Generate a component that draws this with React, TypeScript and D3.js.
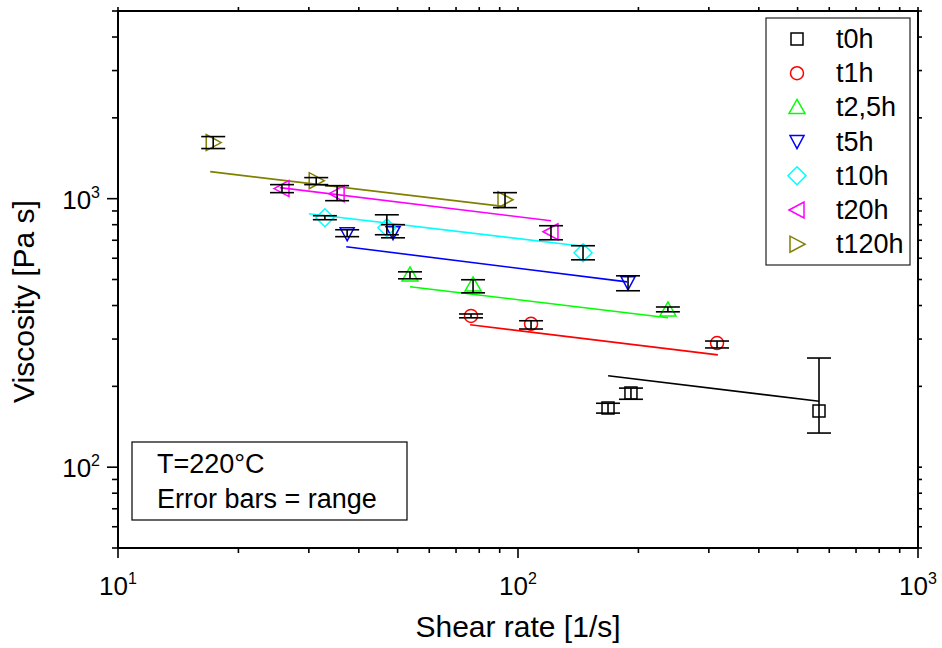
import * as d3 from "d3";

// series (ageing time at 220 °C)
const seriesNames = ["t0h", "t1h", "t2,5h", "t5h", "t10h", "t20h", "t120h"];
const seriesColors = ["#000000", "#ff0000", "#00ff00", "#0000ff", "#00ffff", "#ff00ff", "#808000"];
const seriesSymbols = ["square", "circle", "triUp", "triDown", "diamond", "triLeft", "triRight"];

// shear rate [1/s]
const shearRate = [
  [167.9, 191.6, 565.6],
  [76.3, 107.8, 314.5],
  [53.7, 77.2, 237],
  [37.4, 48.7, 188.4],
  [32.9, 47.0, 145.4],
  [25.7, 35.3, 120.9],
  [17.3, 31.3, 92.8],
];
// viscosity [Pa s], mean
const viscosity = [
  [166, 189, 162],
  [366, 342, 290],
  [520, 477, 385],
  [740, 747, 486],
  [849, 779, 629],
  [1090, 1044, 753],
  [1618, 1167, 991],
];
// error bars = range
const viscMin = [
  [159, 179, 134],
  [360, 327, 278],
  [503, 446, 379],
  [722, 715, 454],
  [835, 734, 592],
  [1053, 983, 703],
  [1537, 1128, 926],
];
const viscMax = [
  [173, 197, 255],
  [372, 351, 295],
  [534, 499, 395],
  [766, 800, 516],
  [864, 871, 668],
  [1128, 1118, 793],
  [1703, 1198, 1053],
];
// power-law fit lines (start / end)
const fitShear = [
  [168, 566],
  [75.9, 316],
  [53.7, 237],
  [37.2, 187.3],
  [30.0, 148.8],
  [25.4, 120.9],
  [17.0, 92.8],
];
const fitVisc = [
  [219, 176],
  [339, 262],
  [470, 360],
  [662, 490],
  [879, 662],
  [1099, 828],
  [1261, 934],
];

const width = 942;
const height = 648;
const plot = { left: 118, right: 918, top: 11, bottom: 548 };
const font = "'Liberation Sans', Arial, sans-serif";

const x = d3.scaleLog().domain([10, 1000]).range([plot.left, plot.right]);
const y = d3.scaleLog().domain([50, 5000]).range([plot.bottom, plot.top]);

const isMajor = (v: number) => Math.abs(Math.log10(v) - Math.round(Math.log10(v))) < 1e-9;

function Marker({ kind, color, cx, cy }: { kind: string; color: string; cx: number; cy: number }) {
  const common = { fill: "none", stroke: color, strokeWidth: 1.5, transform: `translate(${cx},${cy})` };
  if (kind === "circle") return <circle r={6.5} {...common} />;
  const paths: Record<string, string> = {
    square: "M-6,-6H6V6H-6Z",
    triUp: "M0,-8L8,6L-8,6Z",
    triDown: "M0,7L7,-6L-7,-6Z",
    diamond: "M0,-9L9,0L0,9L-9,0Z",
    triLeft: "M-8,0L7,-8L7,8Z",
    triRight: "M8,0L-7,-8L-7,8Z",
  };
  return <path d={paths[kind]} {...common} />;
}

export default function App() {
  const xTicks = x.ticks();
  const yTicks = y.ticks();
  const line = d3.line<[number, number]>().x(d => x(d[0])).y(d => y(d[1]));

  return (
    <svg width={width} height={height} style={{ position: "absolute", left: 0, top: 0, background: "#fff" }}
      fontFamily={font}>
      {/* fit lines */}
      {seriesNames.map((name, i) => (
        <path key={name} d={line(fitShear[i].map((s, j) => [s, fitVisc[i][j]]) as [number, number][]) || ""}
          fill="none" stroke={seriesColors[i]} strokeWidth={1.6} />
      ))}

      {/* symbols */}
      {seriesNames.map((name, i) => (
        <g key={name}>
          {shearRate[i].map((s, j) => (
            <Marker key={j} kind={seriesSymbols[i]} color={seriesColors[i]} cx={x(s)} cy={y(viscosity[i][j])} />
          ))}
        </g>
      ))}

      {/* error bars */}
      {seriesNames.map((name, i) => (
        <g key={name} stroke="#000" strokeWidth={1.6}>
          {shearRate[i].map((s, j) => {
            const cx = x(s);
            return (
              <g key={j}>
                <line x1={cx} x2={cx} y1={y(viscMin[i][j])} y2={y(viscMax[i][j])} />
                <line x1={cx - 12} x2={cx + 12} y1={y(viscMin[i][j])} y2={y(viscMin[i][j])} />
                <line x1={cx - 12} x2={cx + 12} y1={y(viscMax[i][j])} y2={y(viscMax[i][j])} />
              </g>
            );
          })}
        </g>
      ))}

      {/* frame */}
      <rect x={plot.left} y={plot.top} width={plot.right - plot.left} height={plot.bottom - plot.top}
        fill="none" stroke="#000" strokeWidth={2} />

      {/* x ticks */}
      {xTicks.map((t, i) => (
        <g key={i} stroke="#000" strokeWidth={1.6}>
          <line x1={x(t)} x2={x(t)} y1={plot.bottom} y2={plot.bottom + (isMajor(t) ? 10 : 5)} />
          <line x1={x(t)} x2={x(t)} y1={plot.top} y2={plot.top - 4} />
        </g>
      ))}
      {xTicks.filter(isMajor).map((t, i) => (
        <text key={i} x={x(t)} y={595} fontSize={26} textAnchor="middle" fill="#000">
          10<tspan fontSize={16} dy={-11}>{Math.round(Math.log10(t))}</tspan>
        </text>
      ))}

      {/* y ticks */}
      {yTicks.map((t, i) => (
        <g key={i} stroke="#000" strokeWidth={1.6}>
          <line x1={plot.left} x2={plot.left - (isMajor(t) ? 11 : 6)} y1={y(t)} y2={y(t)} />
          <line x1={plot.right} x2={plot.right + 4} y1={y(t)} y2={y(t)} />
        </g>
      ))}
      {yTicks.filter(isMajor).map((t, i) => (
        <text key={i} x={100} y={y(t) + 10} fontSize={26} textAnchor="end" fill="#000">
          10<tspan fontSize={16} dy={-11}>{Math.round(Math.log10(t))}</tspan>
        </text>
      ))}

      {/* axis titles */}
      <text x={(plot.left + plot.right) / 2} y={637} fontSize={30} textAnchor="middle" fill="#000">
        Shear rate [1/s]
      </text>
      <text transform={`translate(34,${(plot.top + plot.bottom) / 2 + 22}) rotate(-90)`} fontSize={30}
        textAnchor="middle" fill="#000">
        Viscosity [Pa s]
      </text>

      {/* legend */}
      <g>
        <rect x={766} y={18} width={144} height={247} fill="#fff" stroke="#222" strokeWidth={1.2} />
        {seriesNames.map((name, i) => (
          <g key={name}>
            <Marker kind={seriesSymbols[i]} color={seriesColors[i]} cx={797} cy={39 + i * 34.2} />
            <text x={836} y={48 + i * 34.2} fontSize={27} fill="#000">{name}</text>
          </g>
        ))}
      </g>

      {/* annotation */}
      <rect x={132} y={442} width={275} height={78} fill="#fff" stroke="#000" strokeWidth={1.2} />
      <text x={157} y={473} fontSize={27} fill="#000">T=220°C</text>
      <text x={157} y={508} fontSize={27} fill="#000">Error bars = range</text>
    </svg>
  );
}
